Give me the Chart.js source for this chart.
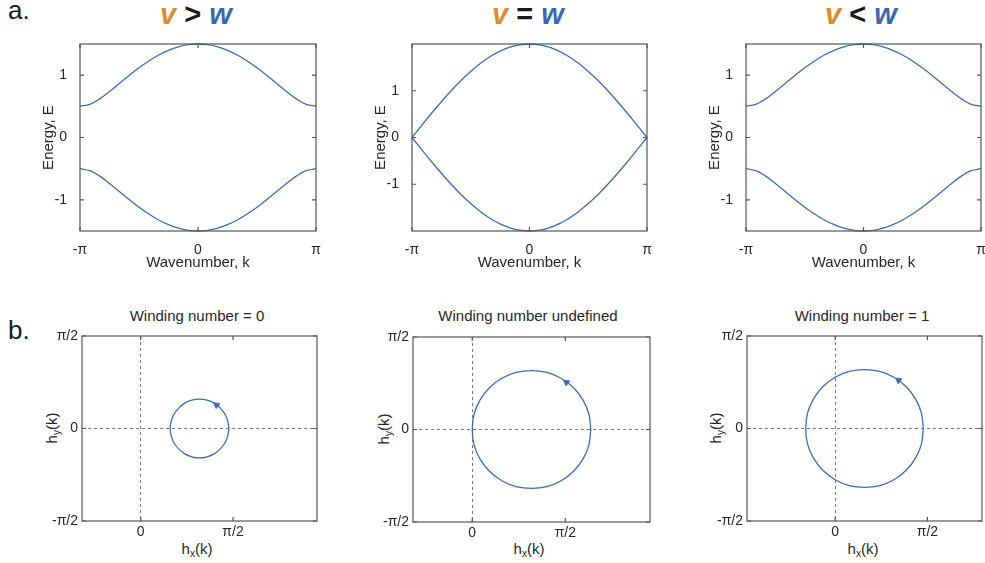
<!DOCTYPE html>
<html>
<head>
<meta charset="utf-8">
<script src="https://cdn.jsdelivr.net/npm/chart.js@4.4.0/dist/chart.umd.min.js"></script>
<style>
body{margin:0;background:#fff;}
#fig{position:relative;width:985px;height:563px;overflow:hidden;font-family:"Liberation Sans",Arial,Helvetica,sans-serif;color:#1a1a1a;}
#fig canvas{position:absolute;}
.txt{position:absolute;white-space:nowrap;line-height:1;}
.big{font-size:26px;}
.head{font-size:29px;font-weight:bold;transform:translateX(-50%);}
.v{color:#e08a2e;font-style:italic;}
.w{color:#3a68b0;font-style:italic;}
.sm{font-size:15px;color:#262626;transform:translate(-50%,-50%);}
.sm.rot{transform:translate(-50%,-50%) rotate(-90deg);}
.sm sub{font-size:10px;vertical-align:-3px;line-height:0;}
</style>
</head>
<body>
<div id="fig">
  <div class="txt big" style="left:8px;top:-3px">a.</div>
  <div class="txt big" style="left:8px;top:317px">b.</div>

  <div class="txt head" style="left:196px;top:0px"><span class="v">v</span> &gt; <span class="w">w</span></div>
  <div class="txt head" style="left:528px;top:0px"><span class="v">v</span> = <span class="w">w</span></div>
  <div class="txt head" style="left:861px;top:0px"><span class="v">v</span> &lt; <span class="w">w</span></div>

  <div class="txt sm" style="left:197px;top:315px">Winding number = 0</div>
  <div class="txt sm" style="left:528px;top:315px">Winding number undefined</div>
  <div class="txt sm" style="left:862px;top:315px">Winding number = 1</div>

  <div class="txt sm" style="left:197px;top:548px">h<sub>x</sub>(k)</div>
  <div class="txt sm" style="left:529px;top:548px">h<sub>x</sub>(k)</div>
  <div class="txt sm" style="left:863px;top:548px">h<sub>x</sub>(k)</div>
  <div class="txt sm rot" style="left:51px;top:428px">h<sub>y</sub>(k)</div>
  <div class="txt sm rot" style="left:383px;top:429px">h<sub>y</sub>(k)</div>
  <div class="txt sm rot" style="left:715px;top:428px">h<sub>y</sub>(k)</div>

  <canvas id="bandA"></canvas>
  <canvas id="bandB"></canvas>
  <canvas id="bandC"></canvas>
  <canvas id="windA"></canvas>
  <canvas id="windB"></canvas>
  <canvas id="windC"></canvas>
</div>

<script>
// DATA ----------------------------------------------------------------------
// wavenumber k in degrees (-180 = -pi, 180 = pi)
var kDeg = [-180,-165,-150,-135,-120,-105,-90,-75,-60,-45,-30,-15,0,15,30,45,60,75,90,105,120,135,150,165,180];
var kTickVals = [-180, 0, 180];
var kTickLabels = ['-π', '0', 'π'];
var eTickVals = [-1, 0, 1];
var eTickLabels = ['-1', '0', '1'];

// energy bands, v > w
var upperVgtW = [0.500,0.533,0.620,0.737,0.866,0.996,1.118,1.228,1.323,1.399,1.455,1.489,1.500,1.489,1.455,1.399,1.323,1.228,1.118,0.996,0.866,0.737,0.620,0.533,0.500];
var lowerVgtW = [-0.500,-0.533,-0.620,-0.737,-0.866,-0.996,-1.118,-1.228,-1.323,-1.399,-1.455,-1.489,-1.500,-1.489,-1.455,-1.399,-1.323,-1.228,-1.118,-0.996,-0.866,-0.737,-0.620,-0.533,-0.500];
// v = w
var upperVeqW = [0.000,0.261,0.518,0.765,1.000,1.218,1.414,1.587,1.732,1.848,1.932,1.983,2.000,1.983,1.932,1.848,1.732,1.587,1.414,1.218,1.000,0.765,0.518,0.261,0.000];
var lowerVeqW = [0.000,-0.261,-0.518,-0.765,-1.000,-1.218,-1.414,-1.587,-1.732,-1.848,-1.932,-1.983,-2.000,-1.983,-1.932,-1.848,-1.732,-1.587,-1.414,-1.218,-1.000,-0.765,-0.518,-0.261,0.000];
// v < w
var upperVltW = [0.500,0.533,0.620,0.737,0.866,0.996,1.118,1.228,1.323,1.399,1.455,1.489,1.500,1.489,1.455,1.399,1.323,1.228,1.118,0.996,0.866,0.737,0.620,0.533,0.500];
var lowerVltW = [-0.500,-0.533,-0.620,-0.737,-0.866,-0.996,-1.118,-1.228,-1.323,-1.399,-1.455,-1.489,-1.500,-1.489,-1.455,-1.399,-1.323,-1.228,-1.118,-0.996,-0.866,-0.737,-0.620,-0.533,-0.500];

// h(k) loops: winding 0, undefined, 1
var hx0 = [1.50,1.48,1.43,1.35,1.25,1.13,1.00,0.87,0.75,0.65,0.57,0.52,0.50,0.52,0.57,0.65,0.75,0.87,1.00,1.13,1.25,1.35,1.43,1.48,1.50];
var hy0 = [0.00,0.13,0.25,0.35,0.43,0.48,0.50,0.48,0.43,0.35,0.25,0.13,0.00,-0.13,-0.25,-0.35,-0.43,-0.48,-0.50,-0.48,-0.43,-0.35,-0.25,-0.13,0.00];
var hxU = [2.00,1.97,1.87,1.71,1.50,1.26,1.00,0.74,0.50,0.29,0.13,0.03,0.00,0.03,0.13,0.29,0.50,0.74,1.00,1.26,1.50,1.71,1.87,1.97,2.00];
var hyU = [0.00,0.26,0.50,0.71,0.87,0.97,1.00,0.97,0.87,0.71,0.50,0.26,0.00,-0.26,-0.50,-0.71,-0.87,-0.97,-1.00,-0.97,-0.87,-0.71,-0.50,-0.26,0.00];
var hx1 = [1.50,1.47,1.37,1.21,1.00,0.76,0.50,0.24,0.00,-0.21,-0.37,-0.47,-0.50,-0.47,-0.37,-0.21,0.00,0.24,0.50,0.76,1.00,1.21,1.37,1.47,1.50];
var hy1 = [0.00,0.26,0.50,0.71,0.87,0.97,1.00,0.97,0.87,0.71,0.50,0.26,0.00,-0.26,-0.50,-0.71,-0.87,-0.97,-1.00,-0.97,-0.87,-0.71,-0.50,-0.26,0.00];

// arrow heads on the loops
var arrowX = [1.29, 1.59, 1.08];
var arrowY = [0.40, 0.80, 0.82];

var hxTickVals = [0, 1.5708];
var hxTickLabels = ['0', 'π/2'];
var hyTickVals = [-1.5708, 0, 1.5708];
var hyTickLabels = ['-π/2', '0', 'π/2'];

// LAYOUT --------------------------------------------------------------------
// plot boxes [left, top, right, bottom] in page pixels
var boxes = {
  bandA: [80, 44, 316, 231],
  bandB: [412, 44, 647, 231],
  bandC: [746, 44, 981, 231],
  windA: [82, 336, 317, 521],
  windB: [413, 337, 650, 522],
  windC: [747, 336, 982, 521]
};

var LINE = '#3b6cb4';
var AXIS = '#555555';
var TEXT = '#262626';
Chart.defaults.font.family = '"Liberation Sans", Arial, Helvetica, sans-serif';

// box round the plot with inward tick marks on all four sides
var framePlugin = {
  id: 'frame',
  afterDraw: function(chart) {
    var ctx = chart.ctx, a = chart.chartArea, sx = chart.scales.x, sy = chart.scales.y;
    ctx.save();
    ctx.strokeStyle = AXIS;
    ctx.lineWidth = 1.2;
    ctx.strokeRect(a.left, a.top, a.right - a.left, a.bottom - a.top);
    ctx.beginPath();
    sx.ticks.forEach(function(t){
      var px = sx.getPixelForValue(t.value);
      ctx.moveTo(px, a.bottom); ctx.lineTo(px, a.bottom - 4);
      ctx.moveTo(px, a.top); ctx.lineTo(px, a.top + 4);
    });
    sy.ticks.forEach(function(t){
      var py = sy.getPixelForValue(t.value);
      ctx.moveTo(a.left, py); ctx.lineTo(a.left + 4, py);
      ctx.moveTo(a.right, py); ctx.lineTo(a.right - 4, py);
    });
    ctx.stroke();
    ctx.restore();
  }
};

function place(id){
  var b = boxes[id], cv = document.getElementById(id);
  cv.width = (b[2] - b[0]) + 80;
  cv.height = (b[3] - b[1]) + 90;
  cv.style.left = (b[0] - 70) + 'px';
  cv.style.top = (b[1] - 40) + 'px';
  return cv;
}

function pts(xs, ys){
  return xs.map(function(x, i){ return {x: x, y: ys[i]}; });
}

function fixedTicks(vals){
  return function(s){ s.ticks = vals.map(function(v){ return {value: v}; }); };
}

function baseOptions(){
  return {
    responsive: false,
    animation: false,
    events: [],
    layout: {padding: {left: 0, top: 40, right: 10, bottom: 0}},
    plugins: {legend: {display: false}, tooltip: {enabled: false}},
    elements: {point: {radius: 0}, line: {borderColor: LINE, borderWidth: 1.3}}
  };
}

// TOP ROW: energy bands -----------------------------------------------------
function makeBandChart(id, upper, lower, yMax){
  var opts = baseOptions();
  opts.scales = {
    x: {
      type: 'linear', min: -180, max: 180,
      afterFit: function(s){ s.height = 50; },
      afterBuildTicks: fixedTicks(kTickVals),
      ticks: {padding: 3, color: TEXT, font: {size: 14}, maxRotation: 0, autoSkip: false,
        callback: function(v, i){ return kTickLabels[i]; }},
      grid: {display: false}, border: {display: false},
      title: {display: true, text: 'Wavenumber, k', color: TEXT, font: {size: 15}, padding: {top: 0, bottom: 9}}
    },
    y: {
      type: 'linear', min: -yMax, max: yMax,
      afterFit: function(s){ s.width = 70; },
      afterBuildTicks: fixedTicks(eTickVals),
      ticks: {padding: 5, color: TEXT, font: {size: 14}, autoSkip: false,
        callback: function(v, i){ return eTickLabels[i]; }},
      grid: {display: false}, border: {display: false},
      title: {display: true, text: 'Energy, E', color: TEXT, font: {size: 15}, padding: {top: 30, bottom: 0}}
    }
  };
  new Chart(place(id), {
    type: 'scatter',
    data: {datasets: [
      {data: pts(kDeg, upper), showLine: true, tension: 0.4, clip: 4},
      {data: pts(kDeg, lower), showLine: true, tension: 0.4, clip: 4}
    ]},
    options: opts,
    plugins: [framePlugin]
  });
}

// BOTTOM ROW: h(k) loops ----------------------------------------------------
function zeroOnly(c){
  return c.tick && c.tick.value === 0 ? '#7a7a7a' : 'rgba(0,0,0,0)';
}

function makeWindChart(id, hx, hy, n, xMin, xMax){
  var opts = baseOptions();
  opts.scales = {
    x: {
      type: 'linear', min: xMin, max: xMax,
      afterFit: function(s){ s.height = 50; },
      afterBuildTicks: fixedTicks(hxTickVals),
      ticks: {padding: 3, color: TEXT, font: {size: 14}, maxRotation: 0, autoSkip: false,
        callback: function(v, i){ return hxTickLabels[i]; }},
      grid: {display: true, drawTicks: false, color: zeroOnly, lineWidth: 1},
      border: {display: false, dash: [3, 3]}
    },
    y: {
      type: 'linear', min: -1.5708, max: 1.5708,
      afterFit: function(s){ s.width = 70; },
      afterBuildTicks: fixedTicks(hyTickVals),
      ticks: {padding: 4, color: TEXT, font: {size: 14}, autoSkip: false,
        callback: function(v, i){ return hyTickLabels[i]; }},
      grid: {display: true, drawTicks: false, color: zeroOnly, lineWidth: 1},
      border: {display: false, dash: [3, 3]}
    }
  };
  new Chart(place(id), {
    type: 'scatter',
    data: {datasets: [
      {data: pts(hx, hy), showLine: true, tension: 0.35, clip: 4},
      {data: [{x: arrowX[n], y: arrowY[n]}], showLine: false, pointStyle: 'triangle',
        pointRadius: 3.5, pointRotation: -54, pointBackgroundColor: LINE, pointBorderColor: LINE, pointBorderWidth: 1}
    ]},
    options: opts,
    plugins: [framePlugin]
  });
}

// INIT ----------------------------------------------------------------------
makeBandChart('bandA', upperVgtW, lowerVgtW, 1.5);
makeBandChart('bandB', upperVeqW, lowerVeqW, 2);
makeBandChart('bandC', upperVltW, lowerVltW, 1.5);
makeWindChart('windA', hx0, hy0, 0, -1, 3);
makeWindChart('windB', hxU, hyU, 1, -1, 3);
makeWindChart('windC', hx1, hy1, 2, -1.5, 2.5);
</script>
</body>
</html>
